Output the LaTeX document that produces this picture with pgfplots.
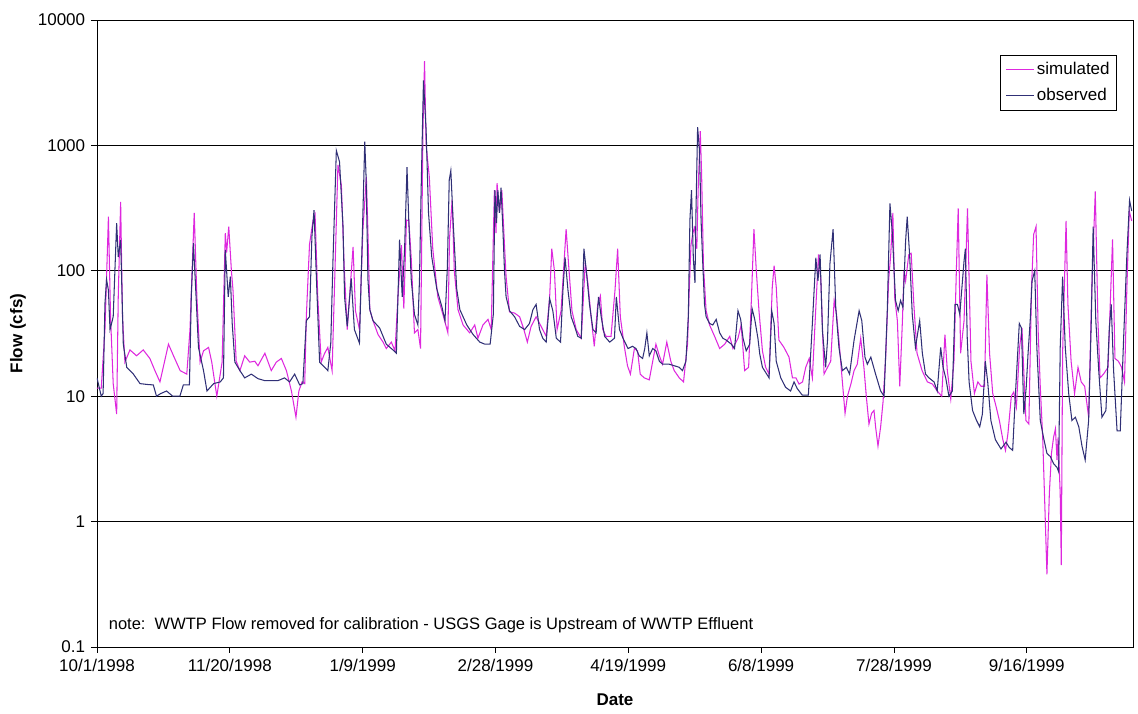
\documentclass[border=0pt]{standalone}
\usepackage{fontspec}
\setmainfont{Liberation Sans}
\usepackage{pgfplots}
\pgfplotsset{compat=1.18}
\definecolor{sim}{RGB}{222,40,222}
\definecolor{obs}{RGB}{48,48,118}
\begin{document}
\fontsize{17}{20}\selectfont
\begin{tikzpicture}
\useasboundingbox (-97pt,-66pt) rectangle (1041pt,647pt);
\begin{axis}[
 at={(0pt,0pt)}, anchor=south west,
 scale only axis, width=1036pt, height=627pt,
 xmin=0, xmax=390, ymode=log, ymin=0.1, ymax=10000,
 xtick={0,50,100,150,200,250,300,350},
 xticklabels={10/1/1998,11/20/1998,1/9/1999,2/28/1999,4/19/1999,6/8/1999,7/28/1999,9/16/1999},
 ytick={0.1,1,10,100,1000,10000}, yticklabels={0.1,1,10,100,1000,10000},
 yminorticks=false,
 ymajorgrids, grid style={black, line width=0.8pt},
 tick align=outside, major tick length=6pt, xtick pos=bottom, ytick pos=left,
 tick style={black, line width=0.8pt},
 axis line style={black, line width=0.8pt},
 ticklabel style={font=\fontsize{17}{20}\selectfont},
 xlabel={\textbf{Date}}, ylabel={\textbf{Flow (cfs)}},
 label style={font=\fontsize{17}{20}\selectfont},
 xlabel style={at={(axis description cs:0.5,-0.0845)}, anchor=center},
 ylabel style={at={(axis description cs:-0.0763,0.5)}, anchor=center},
 legend style={at={(axis description cs:0.9846,0.944)}, anchor=north east, draw=black, line width=0.8pt, font=\fontsize{17}{20}\selectfont, inner sep=5pt, row sep=7pt},
 legend cell align=left,
 legend image code/.code={\draw[#1] (0pt,0pt) -- (28pt,0pt);},
]
\addplot[sim, line width=1.05pt] coordinates {
(0,11.6) (1.6,11.6) (3,34) (4.3,270) (5.1,43) (6.1,12.6) (7.4,7.2) (8,62) (8.9,355) (9.6,43) (10.5,18.7) (12.4,23.4) (14.9,21) (17.4,23.4) (19.9,20) (21.8,16) (23.7,13) (26.9,26) (28.8,21) (31.3,16) (33.8,15) (35,34) (36.6,290) (37.6,62) (38.8,18.7) (40.1,23) (42,24.5) (43.2,18.7) (45.1,10) (47.1,18.7) (48.3,200) (48.8,140) (49.6,225) (50.6,100) (51.2,70) (52.4,19) (53.8,16) (55.6,21) (57.5,18.7) (59.4,19) (60.6,17.5) (63.2,22) (65.6,16) (67.5,18.7) (69.4,20) (71.3,16) (73.2,11) (74.9,6.8) (76,11) (77.2,13) (78.2,12.6) (78.8,43) (80,162) (81.3,250) (82.1,280) (83.1,62) (84.4,18.7) (85.7,22) (86.9,24.5) (88.5,16) (89.5,87) (90.7,700) (92,480) (93,115) (94.2,34) (96.4,155) (97.3,48) (98.8,34) (100.1,213) (101.4,560) (102,200) (102.7,49) (103.9,40) (105.8,31) (107.7,27) (108.9,24) (110.8,27) (112.2,23) (113.3,63) (114.6,160) (115.5,50) (116.5,254) (117.4,250) (118.3,125) (119.5,32) (120.8,34) (121.8,24) (122.7,1320) (123.3,4700) (123.9,1000) (125.1,560) (126.4,150) (128.3,62) (130.2,45) (132.1,32) (132.7,180) (133.7,370) (134.5,100) (135.9,49) (137.8,37) (140.3,32) (142.2,37) (143.4,29) (145.3,37) (147.2,41) (148.4,34) (149.6,440) (150.2,200) (150.6,500) (151.5,290) (152.4,440) (153.4,160) (154,90) (155.3,47) (157.2,46) (159.1,43) (160.7,34) (162,27) (163.4,36) (165.3,43) (167.2,36) (169.1,30) (170.4,62) (171.2,150) (172.2,100) (173.2,34) (174.7,48) (175.8,115) (176.6,215) (177.5,115) (178.8,48) (180.4,34) (182.3,29) (183.8,115) (184.8,80) (186,43) (187.2,25) (188.5,54) (189.5,63) (190.4,34) (191.6,30) (193.5,30) (195,70) (196,150) (197,43) (198.5,25) (199.7,17.5) (200.8,15) (202.3,24) (203.5,23) (204.5,15) (206,14) (207.9,13.5) (209.2,19) (210.4,26) (211.7,21) (212.9,18) (214.5,27) (216,19) (217.3,16) (219.2,14) (220.8,13) (221.7,20) (222.3,26) (222.9,66) (223.6,160) (224.3,200) (224.9,220) (225.8,150) (226.3,440) (227.1,1300) (227.6,600) (228.3,110) (229.3,48) (230.6,37) (232.5,30) (234.4,24) (236.3,26) (238.2,30) (239.4,24) (241.3,29) (242.5,37) (243.8,16) (245.3,17) (246.3,56) (247.3,215) (248.2,100) (249.2,48) (250.5,23) (251.7,17) (253,15) (254.2,74) (254.9,110) (255.7,74) (256.7,28) (258.6,24.5) (260.5,20.5) (261.8,14) (263.1,14) (264.3,12.5) (265.6,13) (266.8,17) (268.1,20) (269.3,14) (270.6,51) (271.6,135) (272.5,83) (273.7,15) (275,17) (276.2,19) (277.5,58) (278.4,45) (279.3,28) (280.6,13) (281.6,7.3) (282.5,10) (283.8,12.5) (285,16) (286.2,18) (287.5,29) (288.7,17) (289.6,10) (290.6,6) (291.6,7.3) (292.5,7.7) (293.1,5.7) (294,4) (295,5.7) (295.9,9) (296.9,20.5) (298,83) (298.8,135) (299.6,290) (300.3,61) (301.3,40) (302.2,12) (303.2,40) (303.8,100) (304.4,83) (305.6,135) (306.5,138) (307.5,54) (308.7,22) (310.6,16) (312.6,13) (314.5,12.5) (316.3,11) (318,10) (319.2,31) (320.1,16) (321.4,9.5) (322.6,19) (323.5,100) (324.2,315) (325.1,22) (326.4,40) (327.7,315) (329,19) (330.3,10.5) (331.6,13) (332.8,12) (334.1,12) (335,93) (336,22) (337.2,10.5) (338.5,8.2) (339.7,6.4) (341,4.5) (342,3.7) (342.9,5) (344.2,10) (345.1,10.8) (346.1,8.2) (347.3,24.5) (348.2,35) (349,14) (349.7,6.4) (350.8,6) (351.8,74) (352.6,195) (353.5,225) (354.3,33) (355.1,11.8) (356,4.7) (357,1.0) (357.6,0.38) (358.5,1.66) (359.3,3.5) (360.1,4.7) (360.8,5.5) (361.4,3.1) (361.8,4.7) (362.6,1.66) (363,0.45) (363.5,22) (364.8,250) (365.5,54) (366.7,19) (368,10.5) (369.3,17) (370.5,13) (371.8,12) (373.3,6.8) (374.5,74) (375.8,430) (376.8,40) (377.6,14) (378.9,15) (380.6,17) (381.3,45) (382.3,178) (383.2,20) (384.5,19) (385.7,17) (386.8,13) (387.7,74) (388.6,300) (389.5,250)
};
\addlegendentry{simulated}
\addplot[obs, line width=1.05pt] coordinates {
(0,14) (1.6,10) (2.3,10.5) (3,55) (3.6,85) (4.3,70) (4.9,34) (6.1,43) (7.4,240) (8,129) (8.9,176) (9.9,26) (11.2,17) (13.7,15) (16.2,12.6) (19,12.4) (21.2,12.3) (22.4,10) (24,10.5) (26.2,11) (28.5,10) (31.2,10) (32.5,12.3) (34.8,12.3) (35.5,62) (36.3,166) (37.3,62) (38.2,24.5) (40.1,16) (41.4,11) (43.9,12.6) (46.4,13) (47.6,14) (48.3,147) (49.4,62) (50.2,90) (50.9,38) (51.9,18.7) (53.8,16) (55.6,14) (58.1,15) (60.6,13.8) (63.2,13.3) (68.1,13.3) (70.6,14) (72.5,13) (74.4,15) (76.3,12.3) (77.5,12.6) (78.8,40) (80,43) (80.9,187) (81.7,305) (82.6,87) (83.8,18.7) (85.7,17) (86.9,16) (88,26.5) (88.8,115) (90.1,910) (91.3,740) (92.6,230) (93.2,62) (94.2,36) (95.7,87) (96.9,34) (98.8,26.5) (100.1,288) (100.8,1070) (101.3,560) (102,85) (102.7,49) (103.9,40) (106.4,35) (108.9,26) (111.4,23.4) (112.7,22) (113.9,177) (114.9,62) (115.8,150) (116.7,670) (117.4,240) (118.3,85) (119.5,45) (120.8,37) (121.4,85) (122,420) (122.9,3300) (123.9,1320) (124.8,290) (126,130) (127.9,72) (129.8,52) (131,40) (131.9,108) (132.6,530) (133.2,630) (134.1,240) (135.4,72) (136.6,49) (139.2,37) (141.6,31) (144.1,27) (146,26) (148,26) (149.2,45) (149.8,440) (150.4,240) (150.9,440) (151.5,290) (152.1,460) (152.8,215) (153.4,100) (154,62) (155.3,48) (157.2,43) (159.1,36) (161,34) (162.8,38) (164.1,49) (165.3,54) (166.6,34) (167.8,29) (169.1,27) (170.4,60) (171.6,48) (172.9,29) (174.5,27) (175.4,70) (176.2,128) (177.3,70) (178.5,43) (179.8,36) (181,30) (182.3,29) (183.3,150) (184.2,100) (185.4,54) (186.7,34) (187.9,32) (188.8,62) (189.8,43) (191.1,30) (193,27) (194.8,29) (195.5,62) (196.7,34) (198,29) (199.9,24) (201.6,25) (202.9,24) (204.1,21) (205.4,20) (206.2,24) (207,32) (207.9,21) (209.2,24) (210.4,23) (211.7,19) (212.9,18) (215.4,18) (217.3,17.5) (219.2,17) (220.4,16) (221.7,19) (222.6,43) (223.2,254) (223.8,440) (224.5,124) (225.1,80) (225.5,310) (226.1,1400) (226.8,910) (227.4,254) (228,120) (228.7,54) (229.3,43) (230.6,38) (231.8,37) (233.1,41) (234.4,32) (235.6,29) (236.9,28) (238.8,26) (240,24) (241.3,48) (242.3,41) (243.2,29) (244.4,23) (245.7,26) (246.6,50) (247.6,41) (248.8,29) (249.5,21.7) (250.5,17) (251.7,15.5) (253,14) (254,48) (254.9,38) (255.7,19) (257.4,14) (259.2,11.8) (261.1,11) (262.4,13) (263.6,11.5) (265.5,10.2) (267.8,10.2) (269.3,38) (270.6,127) (271.4,83) (272.2,135) (273.1,33) (274.3,17) (275,28) (275.9,113) (277.1,215) (278.1,51) (279.3,24.5) (280.6,16) (282.1,17) (283.3,15) (285,28) (286.9,48) (287.9,40) (289.1,20.5) (290,18) (291.3,20.5) (293.1,15) (295,11) (296.3,10) (297.5,48) (298.5,345) (299.4,200) (300.6,58) (301.6,48) (302.5,58) (303.4,51) (304.4,173) (305,270) (305.9,135) (306.9,45) (308.1,24.5) (309.7,40) (310.7,22) (311.9,15) (313.2,14) (315.1,13) (316.3,11) (317.6,24.5) (318.5,17) (319.5,14) (320.7,10) (322,11) (323,54) (323.9,54) (324.8,45) (326.4,120) (326.9,150) (327.6,29) (328.3,13) (329.6,7.7) (331.1,6.4) (332.3,5.7) (333.3,7.2) (334.4,19) (335.3,13) (336.5,6.4) (338.2,4.5) (340.3,3.8) (342.2,4.3) (343.4,3.9) (344.7,3.7) (345.7,10) (347.2,38) (348,35) (348.9,7.2) (349.8,11.8) (350.5,22) (351.3,40) (352,83) (353,100) (353.8,24.5) (355.1,6.4) (356.3,4.7) (357.6,3.5) (358.9,3.3) (360.1,2.9) (361.4,2.7) (362,2.5) (362.6,24.5) (363.5,90) (364.5,24.5) (365.8,10.5) (367,6.4) (368.3,6.8) (369.6,5.7) (370.8,4) (372,3.1) (373.3,6.4) (374.3,40) (375,225) (376,40) (377.1,16) (378.3,6.8) (379.8,7.7) (381.1,35) (381.8,54) (382.7,16) (384,5.3) (385.2,5.3) (386.5,30) (387.7,135) (388.7,365) (389.5,300)
};
\addlegendentry{observed}
\node[anchor=west, font=\fontsize{16.5}{20}\selectfont] at (axis description cs:0.0058,0.035) {note:\ \ WWTP Flow removed for calibration - USGS Gage is Upstream of WWTP Effluent};
\end{axis}
\end{tikzpicture}
\end{document}
